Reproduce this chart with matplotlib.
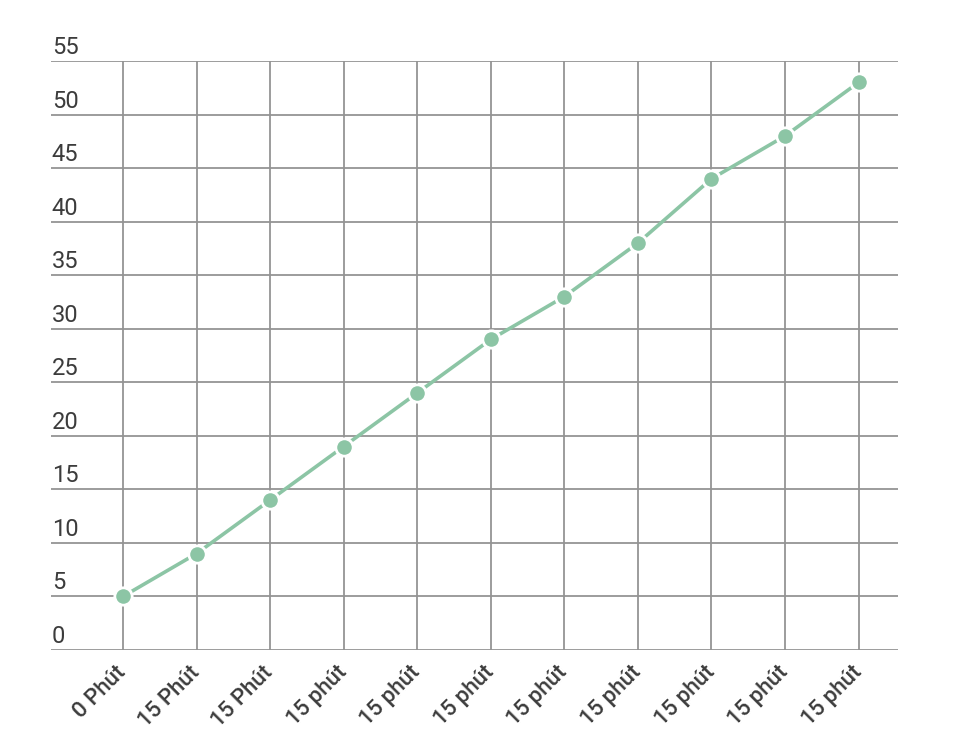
import matplotlib
matplotlib.use("Agg")
import matplotlib.pyplot as plt
import matplotlib.transforms as mtransforms

# data
labels = ["0 Phút", "15 Phút", "15 Phút", "15 phút", "15 phút", "15 phút",
          "15 phút", "15 phút", "15 phút", "15 phút", "15 phút"]
values = [5, 9, 14, 19, 24, 29, 33, 38, 44, 48, 53]
yticks = [0, 5, 10, 15, 20, 25, 30, 35, 40, 45, 50, 55]

plt.rcParams['font.family'] = ['Roboto', 'DejaVu Sans']

fig = plt.figure(figsize=(9.6, 7.51), dpi=100)
ax = fig.add_axes([0.053, 0.1345, 0.882, 0.7843])

x = list(range(len(values)))
ax.plot(x, values, color='#8cc5a5', lw=2.6, marker='o', markersize=12.5,
        markeredgecolor='white', markeredgewidth=2, clip_on=False, zorder=3)

ax.set_xlim(-0.98, 10.53)
ax.set_ylim(0, 55)
ax.set_xticks(x)
ax.set_xticklabels(labels, rotation=45, ha='right', va='center',
                   rotation_mode='anchor', fontsize=16, fontweight='medium',
                   color='#3c3c3c')
ax.set_yticks(yticks)
ax.set_yticklabels([str(v) for v in yticks], fontsize=17, color='#3c3c3c')
ax.tick_params(axis='both', length=0)
ax.tick_params(axis='y', pad=0)
ax.tick_params(axis='x', pad=14)

off = mtransforms.ScaledTranslation(0.01, 0.07, fig.dpi_scale_trans)
for t in ax.get_yticklabels():
    t.set_ha('left')
    t.set_va('baseline')
    t.set_transform(t.get_transform() + off)

ax.grid(True, color='#949494', lw=1.3)
ax.set_axisbelow(True)
for s in ax.spines.values():
    s.set_visible(False)

fig.savefig("out.png", dpi=100)
